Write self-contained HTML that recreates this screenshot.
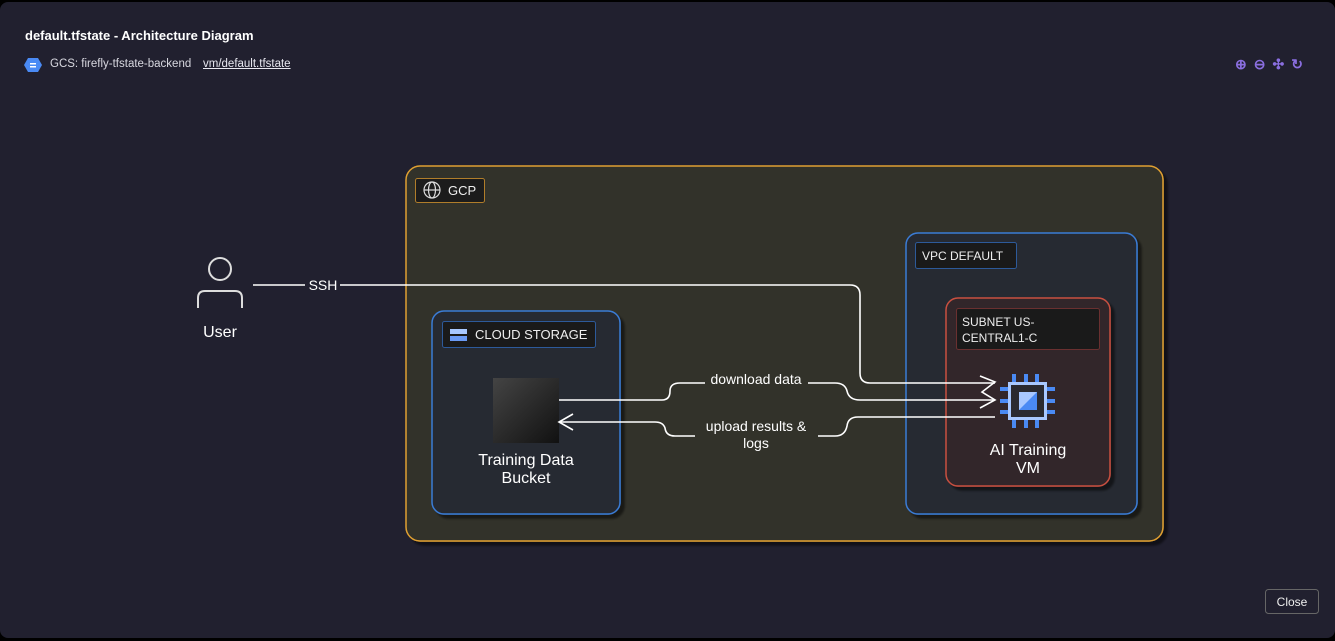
<!DOCTYPE html>
<html><head><meta charset="utf-8"><style>
body{margin:0;width:1335px;height:641px;background:#000;font-family:"Liberation Sans",sans-serif;overflow:hidden;position:relative}
.panel{position:absolute;left:0;top:2px;width:1335px;height:636px;background:#21202f;border-radius:8px}
.t{position:absolute;color:#fff;white-space:nowrap}
</style></head><body>
<div class="panel"></div>
<div class="t" style="left:25px;top:28px;font-size:13px;font-weight:bold">default.tfstate - Architecture Diagram</div>
<svg style="position:absolute;left:24px;top:57px" width="18" height="16"><polygon points="4,1 14,1 18,8 14,15 4,15 0,8" fill="#4a8af4"/><rect x="6" y="6" width="6" height="1.5" fill="#fff"/><rect x="6" y="9" width="6" height="1.5" fill="#fff"/></svg>
<div class="t" style="left:50px;top:58px;font-size:11.5px;color:#d8d8e0">GCS: firefly-tfstate-backend</div>
<div class="t" style="left:203px;top:58px;font-size:11.5px;color:#e8e8f0;text-decoration:underline">vm/default.tfstate</div>
<div class="t" style="left:1235px;top:56px;font-size:14px;color:#8a6ee0;letter-spacing:7px;font-weight:bold">⊕⊖✣↻</div>

<svg style="position:absolute;left:0;top:0" width="1335" height="641">
<defs><filter id="s"><feDropShadow dx="4" dy="4" stdDeviation="1" flood-color="#000" flood-opacity="0.5"/></filter>
<linearGradient id="g" x1="0" y1="0" x2="1" y2="1"><stop offset="0" stop-color="#444"/><stop offset="1" stop-color="#111"/></linearGradient></defs>
<rect x="406" y="166" width="757" height="375" rx="14" fill="#33302a" stroke="#e0a030" stroke-width="1.5" filter="url(#s)"/>
<rect x="415.5" y="178.5" width="69" height="24" rx="2" fill="#1c1c1c" stroke="#b07d2a"/>
<g stroke="#ddd" fill="none" stroke-width="1.2"><circle cx="432" cy="190" r="8"/><ellipse cx="432" cy="190" rx="3.5" ry="8"/><line x1="424" y1="190" x2="440" y2="190"/></g>
<text x="448" y="195" fill="#eee" font-size="13">GCP</text>

<rect x="906" y="233" width="231" height="281" rx="12" fill="#252a33" stroke="#3a7bd5" stroke-width="1.5" filter="url(#s)"/>
<rect x="915.5" y="242.5" width="101" height="26" rx="2" fill="#1a1a1a" stroke="#2d5a9a"/>
<text x="922" y="260" fill="#eee" font-size="12">VPC DEFAULT</text>
<rect x="946" y="298" width="164" height="188" rx="12" fill="#30262a" stroke="#c85040" stroke-width="1.5" filter="url(#s)"/>
<rect x="956.5" y="308.5" width="143" height="41" rx="2" fill="#1a1a1a" stroke="#6a3030"/>
<text x="962" y="326" fill="#eee" font-size="12">SUBNET US-</text>
<text x="962" y="342" fill="#eee" font-size="12">CENTRAL1-C</text>
<g fill="#4a8af4"><rect x="1012" y="374" width="4" height="8"/><rect x="1024" y="374" width="4" height="8"/><rect x="1035" y="374" width="4" height="8"/><rect x="1012" y="420" width="4" height="8"/><rect x="1024" y="420" width="4" height="8"/><rect x="1035" y="420" width="4" height="8"/><rect x="1000" y="387" width="8" height="4"/><rect x="1000" y="399" width="8" height="4"/><rect x="1000" y="410" width="8" height="4"/><rect x="1047" y="387" width="8" height="4"/><rect x="1047" y="399" width="8" height="4"/><rect x="1047" y="410" width="8" height="4"/></g>
<rect x="1009.5" y="383.5" width="36" height="35" fill="#2a2a30" stroke="#a8c8ff" stroke-width="3"/>
<polygon points="1019,392 1037,392 1037,410 1019,410" fill="#a8c8ff"/><polygon points="1037,392 1037,410 1019,410" fill="#4a8af4"/>
<text x="1028" y="455" fill="#fff" font-size="16" text-anchor="middle">AI Training</text>
<text x="1028" y="473" fill="#fff" font-size="16" text-anchor="middle">VM</text>

<rect x="432" y="311" width="188" height="203" rx="12" fill="#252a33" stroke="#3a7bd5" stroke-width="1.5" filter="url(#s)"/>
<rect x="442.5" y="321.5" width="153" height="26" rx="2" fill="#1a1a1a" stroke="#2d5a9a"/>
<rect x="450" y="329" width="17" height="5" fill="#a8c8ff"/><rect x="450" y="336" width="17" height="5" fill="#6a9af4"/>
<text x="475" y="339" fill="#eee" font-size="13">CLOUD STORAGE</text>
<rect x="493" y="378" width="66" height="65" fill="url(#g)"/>
<text x="526" y="465" fill="#fff" font-size="16" text-anchor="middle">Training Data</text>
<text x="526" y="483" fill="#fff" font-size="16" text-anchor="middle">Bucket</text>

<g stroke="#ddd" fill="none" stroke-width="2"><circle cx="220" cy="269" r="11"/><path d="M198 308 V298 Q198 291 205 291 H235 Q242 291 242 298 V308"/></g>
<text x="220" y="337" fill="#fff" font-size="16" text-anchor="middle">User</text>

<g stroke="#fff" fill="none" stroke-width="1.6">
<path d="M253 285 H305 M340 285 H850 Q860 285 860 295 V373 Q860 383 870 383 H995"/>
<path d="M980 376 L995 382 L982 392 L995 400 L980 408"/>
<path d="M559 400 H662 Q670 400 670 391 Q670 383 680 383 H705 M808 383 H835 Q845 383 847 391 Q849 400 860 400 H995"/>
<path d="M995 417 H858 Q848 417 847 426 Q845 436 835 436 H818 M695 436 H675 Q666 436 665 428 Q663 422 655 422 H559"/>
<path d="M573 414 L559 422 L573 430"/>
</g>
<text x="323" y="290" fill="#fff" font-size="14" text-anchor="middle">SSH</text>
<text x="756" y="384" fill="#fff" font-size="14" text-anchor="middle">download data</text>
<text x="756" y="431" fill="#fff" font-size="14" text-anchor="middle">upload results &amp;</text>
<text x="756" y="448" fill="#fff" font-size="14" text-anchor="middle">logs</text>
<rect x="1265.5" y="589.5" width="53" height="24" rx="3" fill="#21202f" stroke="#666"/>
<text x="1292" y="606" fill="#eee" font-size="12" text-anchor="middle">Close</text>
</svg>
</body></html>
